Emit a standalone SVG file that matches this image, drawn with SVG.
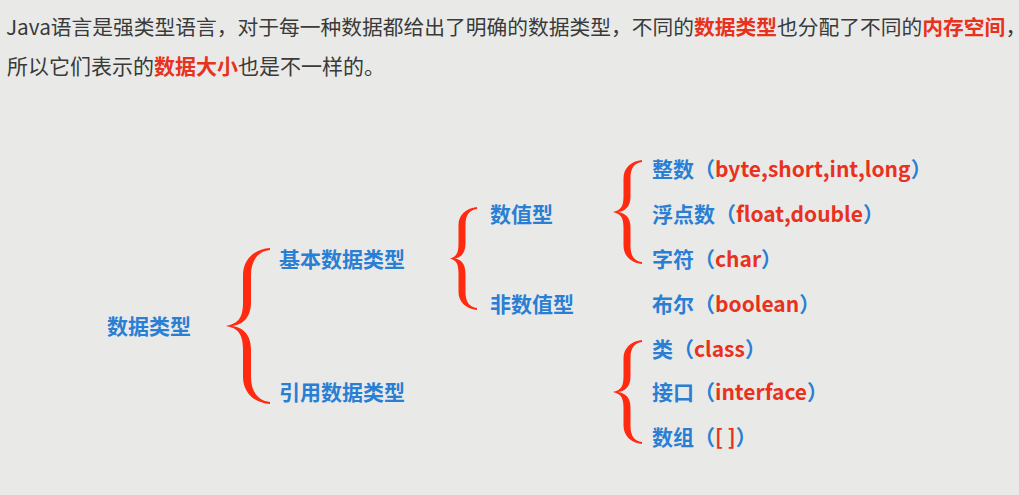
<svg xmlns="http://www.w3.org/2000/svg" xmlns:xlink="http://www.w3.org/1999/xlink" width="1019" height="495" viewBox="0 0 1019 495">
<style>
.hd{font-family:"Noto Sans CJK SC","Noto Sans",sans-serif;font-size:21px;fill:#3a3a3a}
.hd1{font-size:20.75px}
.hr{fill:#e8321e;font-weight:bold}
.n{font-family:"Noto Sans CJK SC","Noto Sans",sans-serif;font-size:21px;font-weight:bold;fill:#2a7fd4}
.r{fill:#e8321e}
.br{fill:#ff2a10}
</style>
<defs>
<path id="b3" d="M642,160 C631.5,161 623.5,167.8 623.5,178.2 L623.5,196.4 C623.5,207.8 620,210 613,212 C620,214 623.5,216.2 623.5,227.6 L623.5,245.8 C623.5,256.2 631.5,263 642,264 L642,262 C634.5,261 630.5,256.2 630.5,245.8 L630.5,227.6 C630.5,217.2 625,213 618,212 C625,211 630.5,206.8 630.5,196.4 L630.5,178.2 C630.5,167.8 634.5,163 642,162 Z"/>
</defs>
<rect width="1019" height="495" fill="#e9eae8"/>
<g id="header">
<text class="hd hd1" x="6" y="35">Java语言是强类型语言，对于每一种数据都给出了明确的数据类型，不同的<tspan class="hr">数据类型</tspan>也分配了不同的<tspan class="hr">内存空间</tspan>，</text>
<text class="hd" x="7" y="74">所以它们表示的<tspan class="hr">数据大小</tspan>也是不一样的。</text>
</g>
<g id="connectors">
<path class="br" d="M270,248 C254,249 243,259.7 243,275.3 L243,302.6 C243,319.8 236.5,324 226,326 C236.5,328 243,332.2 243,349.4 L243,376.7 C243,392.3 254,403 270,404 L270,402 C258.5,401 251,392.3 251,376.7 L251,349.4 C251,333.8 242,327 232,326 C242,325 251,318.2 251,302.6 L251,275.3 C251,259.7 258.5,251 270,250 Z"/>
<path class="br" d="M477,207 C466.5,208 458.5,214.7 458.5,225 L458.5,243.1 C458.5,254.4 456,256.5 450,258.5 C456,260.5 458.5,262.6 458.5,274 L458.5,292 C458.5,302.3 466.5,309 477,310 L477,308 C469.5,307 465.5,302.3 465.5,292 L465.5,274 C465.5,263.6 461,259.5 455,258.5 C461,257.5 465.5,253.4 465.5,243.1 L465.5,225 C465.5,214.7 469.5,210 477,209 Z"/>
<use class="br" xlink:href="#b3" href="#b3"/>
<use class="br" xlink:href="#b3" href="#b3" transform="translate(0,180)"/>
</g>
<g id="n-root"><text class="n" x="107" y="334">数据类型</text></g>
<g id="n-basic"><text class="n" x="279" y="267">基本数据类型</text></g>
<g id="n-ref"><text class="n" x="279" y="400">引用数据类型</text></g>
<g id="n-numeric"><text class="n" x="490" y="222">数值型</text></g>
<g id="n-nonnumeric"><text class="n" x="490" y="312">非数值型</text></g>
<g id="n-int"><text class="n" x="652" y="177">整数（<tspan class="r">byte,short,int,long</tspan>）</text></g>
<g id="n-float"><text class="n" x="652" y="222">浮点数（<tspan class="r">float,double</tspan>）</text></g>
<g id="n-char"><text class="n" x="652" y="267">字符（<tspan class="r">char</tspan>）</text></g>
<g id="n-bool"><text class="n" x="652" y="312">布尔（<tspan class="r">boolean</tspan>）</text></g>
<g id="n-class"><text class="n" x="652" y="357">类（<tspan class="r">class</tspan>）</text></g>
<g id="n-interface"><text class="n" x="652" y="400">接口（<tspan class="r">interface</tspan>）</text></g>
<g id="n-array"><text class="n" x="652" y="445">数组（<tspan class="r">[ ]</tspan>）</text></g>
</svg>
